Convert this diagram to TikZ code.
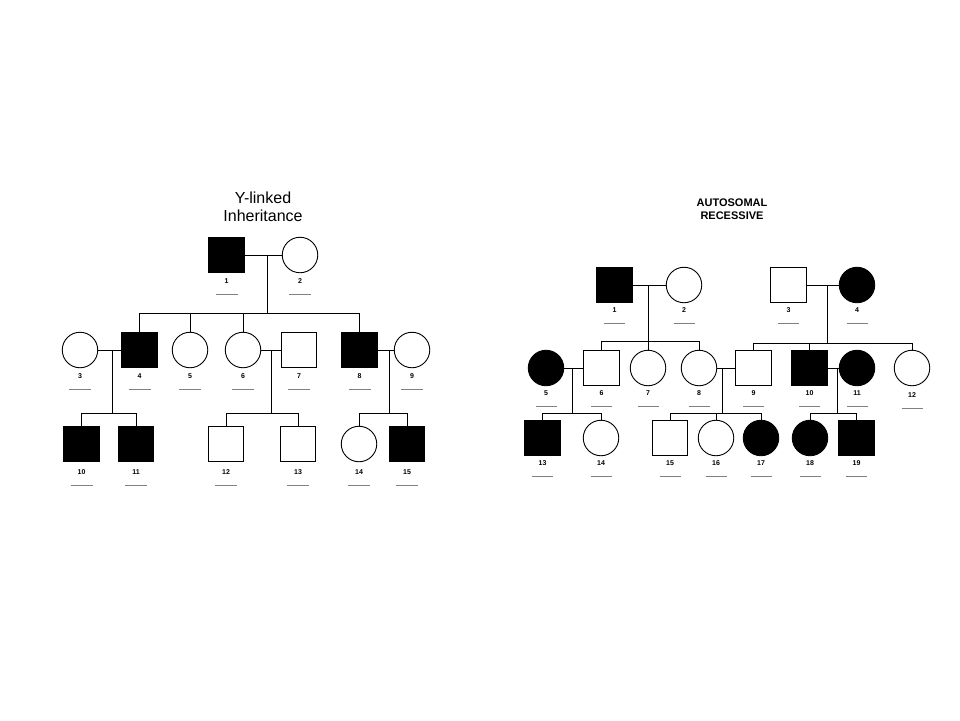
\documentclass[tikz,border=0pt]{standalone}
\usepackage{fontspec}
\setmainfont{Liberation Sans}
\usetikzlibrary{positioning}
\tikzstyle{M}=[draw,fill=black,minimum size=35.5pt,inner sep=0pt]
\tikzstyle{m}=[draw,fill=white,minimum size=35.5pt,inner sep=0pt]
\tikzstyle{F}=[draw,circle,fill=black,minimum size=35.5pt,inner sep=0pt]
\tikzstyle{f}=[draw,circle,fill=white,minimum size=35.5pt,inner sep=0pt]
\tikzstyle{N}=[font=\fontsize{7}{8}\selectfont\bfseries,inner sep=0pt]
\tikzstyle{U}=[draw=gray,line width=0.8pt]

\begin{document}
\begin{tikzpicture}[x=1pt,y=-1pt,line width=0.9pt]
        \useasboundingbox (0,0) rectangle (960,720);

        \begin{scope}
            \node[align=center,font=\fontsize{16}{18}\selectfont] (tY) at (263,207) {Y-linked\\Inheritance};
            \node[M] (A1) at (226.5,255) {};
            \node[f] (A2) at (300,255) {};
            \node[f] (A3) at (80,350) {};
            \node[M] (A4) at (139.5,350) {};
            \node[f] (A5) at (190,350) {};
            \node[f] (A6) at (243,350) {};
            \node[m] (A7) at (299,350) {};
            \node[M] (A8) at (359.5,350) {};
            \node[f] (A9) at (412,350) {};
            \node[M] (A10) at (81.5,444) {};
            \node[M] (A11) at (136,444) {};
            \node[m] (A12) at (226,444) {};
            \node[m] (A13) at (298,444) {};
            \node[f] (A14) at (359,444) {};
            \node[M] (A15) at (407,444) {};
            \coordinate (a12) at (267,255); \coordinate (a12s) at (267,313);
            \coordinate (a34) at (112,350); \coordinate (a34s) at (112,413);
            \coordinate (a67) at (271,350); \coordinate (a67s) at (271,413);
            \coordinate (a89) at (389,350); \coordinate (a89s) at (389,413);
            \draw (A1) -- (A2) (a12) -- (a12s);
            \draw (A4.north) |- (A8 |- a12s) -- (A8.north);
            \draw (A5.north) -- (A5 |- a12s) (A6.north) -- (A6 |- a12s);
            \draw (A3) -- (A4) (a34) -- (a34s);
            \draw (A10.north) |- (A11 |- a34s) -- (A11.north);
            \draw (A6) -- (A7) (a67) -- (a67s);
            \draw (A12.north) |- (A13 |- a67s) -- (A13.north);
            \draw (A8) -- (A9) (a89) -- (a89s);
            \draw (A14.north) |- (A15 |- a89s) -- (A15.north);
            % numbers
            \node[N,below=5pt of A1] (na1) {1};
            \node[N,below=5pt of A2] (na2) {2};
            \node[N,below=5pt of A3] (na3) {3};
            \node[N,below=5pt of A4] (na4) {4};
            \node[N,below=5pt of A5] (na5) {5};
            \node[N,below=5pt of A6] (na6) {6};
            \node[N,below=5pt of A7] (na7) {7};
            \node[N,below=5pt of A8] (na8) {8};
            \node[N,below=5pt of A9] (na9) {9};
            \node[N,below=7pt of A10] (na10) {10};
            \node[N,below=7pt of A11] (na11) {11};
            \node[N,below=7pt of A12] (na12) {12};
            \node[N,below=7pt of A13] (na13) {13};
            \node[N,below=7pt of A14] (na14) {14};
            \node[N,below=7pt of A15] (na15) {15};
            \foreach \i in {1,...,15}
                \draw[U] ([yshift=-13.5pt]na\i.center) ++(-11,0) -- ++(22,0);
        \end{scope}

        \begin{scope}
            \node[align=center,font=\fontsize{11}{13}\selectfont\bfseries] (tA) at (732,209.5) {AUTOSOMAL\\RECESSIVE};
            \node[M] (B1) at (614.5,285) {};
            \node[f] (B2) at (684,285) {};
            \node[m] (B3) at (788.5,285) {};
            \node[F] (B4) at (857,285) {};
            \node[F] (B5) at (546,368) {};
            \node[m] (B6) at (601.5,368) {};
            \node[f] (B7) at (648,368) {};
            \node[f] (B8) at (699,368) {};
            \node[m] (B9) at (753.5,368) {};
            \node[M] (B10) at (809.5,368) {};
            \node[F] (B11) at (857,368) {};
            \node[f] (B12) at (912,368) {};
            \node[M] (B13) at (542.5,438) {};
            \node[f] (B14) at (601,438) {};
            \node[m] (B15) at (670,438) {};
            \node[f] (B16) at (716,438) {};
            \node[F] (B17) at (761,438) {};
            \node[F] (B18) at (810,438) {};
            \node[M] (B19) at (856.5,438) {};
            \coordinate (b12) at (648,285); \coordinate (b12s) at (648,341);
            \coordinate (b34) at (827,285); \coordinate (b34s) at (827,343);
            \coordinate (b56) at (572,368); \coordinate (b56s) at (572,413);
            \coordinate (b89) at (722,368); \coordinate (b89s) at (722,413);
            \coordinate (b1011) at (837,368); \coordinate (b1011s) at (837,413);
            \draw (B1) -- (B2) (b12) -- (b12s);
            \draw (B6.north) |- (B8 |- b12s) -- (B8.north);
            \draw (B7.north) -- (B7 |- b12s);
            \draw (B3) -- (B4) (b34) -- (b34s);
            \draw (B9.north) |- (B12 |- b34s) -- (B12.north);
            \draw (B10.north) -- (B10 |- b34s);
            \draw (B5) -- (B6) (b56) -- (b56s);
            \draw (B13.north) |- (B14 |- b56s) -- (B14.north);
            \draw (B8) -- (B9) (b89) -- (b89s);
            \draw (B15.north) |- (B17 |- b89s) -- (B17.north);
            \draw (B16.north) -- (B16 |- b89s);
            \draw (B10) -- (B11) (b1011) -- (b1011s);
            \draw (B18.north) |- (B19 |- b1011s) -- (B19.north);
            % numbers
            \foreach \i in {1,...,11,13,14,15,16,17,18,19}
                \node[N,below=4pt of B\i] (nb\i) {\i};
            \node[N,below=6pt of B12] (nb12) {12};
            \foreach \i in {1,...,19}
                \draw[U] ([yshift=-13pt]nb\i.center) ++(-10.5,0) -- ++(21,0);
        \end{scope}

    \end{tikzpicture}
\end{document}
